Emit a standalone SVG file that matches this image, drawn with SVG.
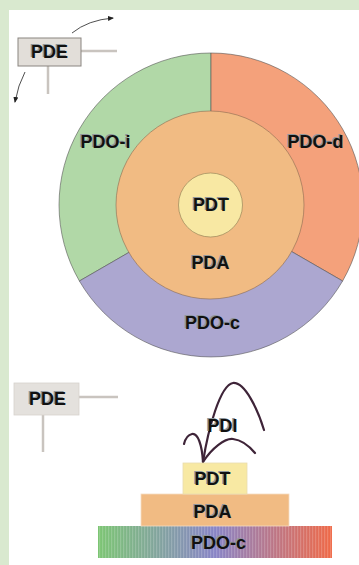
<svg xmlns="http://www.w3.org/2000/svg" width="359" height="565" viewBox="0 0 359 565">
<style>
.t{font-family:"Liberation Sans",Arial,sans-serif;font-weight:bold;font-size:18px;text-anchor:middle;dominant-baseline:central}
.sh{fill:#8e969c}
.fg{fill:#111}
.ln{stroke:#c9c4bf;stroke-width:2.5;fill:none}
.sec{stroke:#555;stroke-width:0.6}
.plant{stroke:#3e2438;stroke-width:2.2;fill:none;stroke-linecap:round}
.arr{stroke:#222;stroke-width:0.8;fill:none}
</style>
<defs>
<marker id="ah" markerWidth="6" markerHeight="6" refX="5" refY="3" orient="auto" markerUnits="userSpaceOnUse">
<path d="M0,0.5 L6,3 L0,5.5 Z" fill="#222"/>
</marker>
<linearGradient id="grad" x1="0" y1="0" x2="1" y2="0">
<stop offset="0" stop-color="#7cc573"/>
<stop offset="0.5" stop-color="#8884c6"/>
<stop offset="1" stop-color="#ef6947"/>
</linearGradient>
<pattern id="stripes" width="3" height="10" patternUnits="userSpaceOnUse">
<rect x="0" y="0" width="1.2" height="10" fill="#fff" opacity="0.18"/>
</pattern>
</defs>
<rect x="0" y="0" width="359" height="565" fill="#d9e9cf"/>
<rect x="9" y="10" width="350" height="555" fill="#ffffff"/>

<g id="connectors">
<path class="ln" d="M81,51 H117"/>
<path class="ln" d="M48,66 V94"/>
<path class="arr" d="M72,33 Q88,20 113,18" marker-end="url(#ah)"/>
<path class="arr" d="M25,72 Q18,85 15,102" marker-end="url(#ah)"/>
<path class="ln" d="M79,397 H118"/>
<path class="ln" d="M43,415 V452"/>
</g>

<g id="pde-top">
<rect x="18" y="38" width="63" height="28" fill="#e2ded9" stroke="#8a8580" stroke-width="1"/>
<text class="t sh" x="48" y="51">PDE</text>
<text class="t fg" x="49.5" y="52">PDE</text>
</g>

<g id="pdo-i">
<path class="sec" d="M211,205 L211,53 A152,152 0 0 0 79.4,281 Z" fill="#b1d8a7"/>
<text class="t sh" x="104" y="141">PDO-i</text>
<text class="t fg" x="105.5" y="142">PDO-i</text>
</g>
<g id="pdo-d">
<path class="sec" d="M211,205 L211,53 A152,152 0 0 1 342.6,281 Z" fill="#f4a17b"/>
<text class="t sh" x="314" y="141">PDO-d</text>
<text class="t fg" x="315.5" y="142">PDO-d</text>
</g>
<g id="pdo-c">
<path class="sec" d="M211,205 L342.6,281 A152,152 0 0 1 79.4,281 Z" fill="#aca7d0"/>
<text class="t sh" x="211" y="322">PDO-c</text>
<text class="t fg" x="212.5" y="323">PDO-c</text>
</g>
<g id="pda">
<circle cx="210" cy="205" r="94" fill="#f1bb83" stroke="#8a6a50" stroke-width="0.6"/>
<text class="t sh" x="209" y="262">PDA</text>
<text class="t fg" x="210.5" y="263">PDA</text>
</g>
<g id="pdt">
<circle cx="210.5" cy="205" r="32" fill="#f8e8a3" stroke="#8a7a50" stroke-width="0.6"/>
<text class="t sh" x="209.5" y="204">PDT</text>
<text class="t fg" x="211" y="205">PDT</text>
</g>

<g id="pde-bottom">
<rect x="14" y="383" width="65" height="32" fill="#e4e1dd" stroke="#d6d2ce" stroke-width="0.8"/>
<text class="t sh" x="46" y="398">PDE</text>
<text class="t fg" x="47.5" y="399">PDE</text>
</g>

<g id="pdi">
<path class="plant" d="M203,462 C208,430 220,385 233,383 C245,382 258,410 264,430"/>
<path class="plant" d="M203,462 C202,445 198,433 192,434 C187,435 185,440 184,444"/>
<path class="plant" d="M203,462 C212,448 225,438 233,439 C242,440 250,447 255,453"/>
<text class="t sh" x="221" y="425">PDI</text>
<text class="t fg" x="222.5" y="426">PDI</text>
</g>

<g id="pdo-c-bar">
<rect x="98" y="526" width="234" height="32" fill="url(#grad)"/>
<rect x="98" y="526" width="234" height="32" fill="url(#stripes)"/>
<text class="t sh" x="217" y="542">PDO-c</text>
<text class="t fg" x="218.5" y="543">PDO-c</text>
</g>
<g id="pda-bar">
<rect x="141" y="494" width="148" height="32" fill="#f1bb83" stroke="#f6dcc2" stroke-width="0.8"/>
<text class="t sh" x="211" y="511">PDA</text>
<text class="t fg" x="212.5" y="512">PDA</text>
</g>
<g id="pdt-bar">
<rect x="183" y="463" width="64" height="31" fill="#f8e9a3" stroke="#e8dcae" stroke-width="0.8"/>
<text class="t sh" x="211" y="478">PDT</text>
<text class="t fg" x="212.5" y="479">PDT</text>
</g>
</svg>
